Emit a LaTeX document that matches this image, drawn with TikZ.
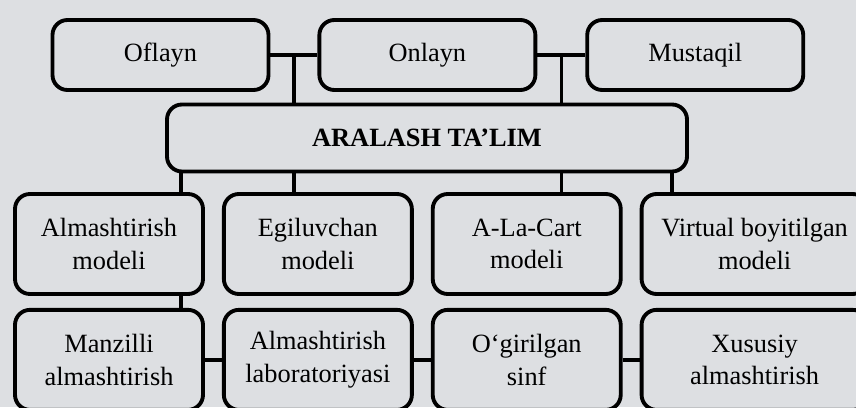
\documentclass[tikz,border=0pt]{standalone}
\usepackage{fontspec}
\setmainfont{Liberation Serif}
\usepackage{xcolor}
\usetikzlibrary{positioning,calc}
\definecolor{paper}{RGB}{221,223,226}

\begin{document}
\begin{tikzpicture}[
    node distance=0.24cm and 0.34cm,
    tbox/.style={rectangle, draw=black, fill=paper, line width=2.2pt, rounded corners=0.3cm, align=center, minimum height=1.4cm, minimum width=4.32cm, font=\fontsize{15}{18.5}\selectfont},
    cbox/.style={rectangle, draw=black, fill=paper, line width=2.2pt, rounded corners=0.3cm, align=center, minimum height=1.34cm, minimum width=10.4cm, font=\fontsize{15}{18.5}\selectfont\bfseries},
    mbox/.style={rectangle, draw=black, fill=paper, line width=2.2pt, rounded corners=0.3cm, align=center, minimum height=2.0cm, minimum width=3.76cm, font=\fontsize{15}{18.5}\selectfont},
    lnk/.style={line width=1.9pt, draw=black}
]
    \path [fill=paper, use as bounding box] (0,0) rectangle (17.12,8.14);

    % yuqori qator
    \node [tbox] (ofl) at (3.21,7.04) {Oflayn};
    \node [tbox, right=0.94cm of ofl] (onl) {Onlayn};
    \node [tbox, right=0.96cm of onl] (mus) {Mustaqil};

    \node [cbox] (ar) at (8.54,5.38) {ARALASH TA’LIM};

    % modellar
    \node [mbox] (alm) at (2.18,3.26) {Almashtirish\\modeli};
    \node [mbox, right=of alm] (egi) {Egiluvchan\\modeli};
    \node [mbox, right=of egi] (alc) {A-La-Cart\\modeli};
    \node [mbox, right=of alc, minimum width=4.52cm] (vir) {Virtual boyitilgan\\modeli};

    \node [mbox, below=of alm] (man) {Manzilli\\almashtirish};
    \node [mbox, below=of egi] (lab) {Almashtirish\\laboratoriyasi};
    \node [mbox, below=of alc] (ogi) {O‘girilgan\\sinf};
    \node [mbox, below=of vir, minimum width=4.52cm] (xus) {Xususiy\\almashtirish};

    \draw [lnk] (ofl) -- coordinate (j1) (onl);
    \draw [lnk] (j1) -- (j1 |- ar.north);
    \draw [lnk] (onl) -- coordinate (j2) (mus);
    \draw [lnk] (j2) -- (j2 |- ar.north);

    \coordinate (d1) at ($(ar.south west)+(0.32,0)$);
    \coordinate (d4) at ($(ar.south east)+(-0.34,0)$);
    \draw [lnk] (d1) -- (d1 |- alm.north);
    \draw [lnk] (ar.south -| j1) -- (j1 |- egi.north);
    \draw [lnk] (ar.south -| j2) -- (j2 |- alc.north);
    \draw [lnk] (d4) -- (d4 |- vir.north);

    \draw [lnk] (alm.south -| d1) -- (d1 |- man.north);
    \draw [lnk] (man) -- (lab);
    \draw [lnk] (lab) -- (ogi);
    \draw [lnk] (ogi) -- (xus);
\end{tikzpicture}
\end{document}
